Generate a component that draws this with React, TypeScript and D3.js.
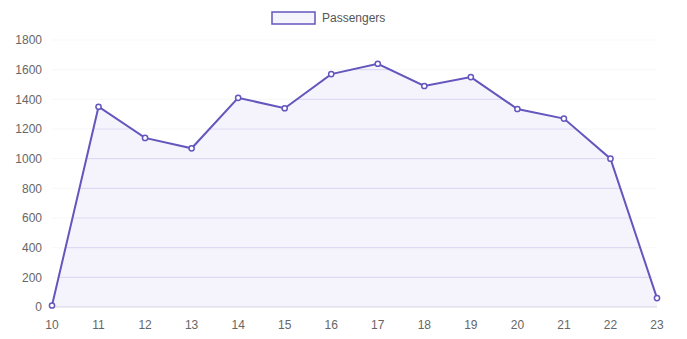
import React from "react";
import * as d3 from "d3";

const hours = [10, 11, 12, 13, 14, 15, 16, 17, 18, 19, 20, 21, 22, 23];
const passengers = [10, 1350, 1140, 1070, 1410, 1340, 1570, 1640, 1490, 1550, 1335, 1270, 1000, 60];
const yTicks = [0, 200, 400, 600, 800, 1000, 1200, 1400, 1600, 1800];
const seriesLabel = "Passengers";

const W = 687;
const H = 339;
const left = 52;
const right = 657;
const top = 40;
const bottom = 307;

export default function App() {
  const x = d3.scaleLinear().domain([hours[0], hours[hours.length - 1]]).range([left, right]);
  const y = d3.scaleLinear().domain([0, 1800]).range([bottom, top]);
  const pts = hours.map((h, i) => [h, passengers[i]] as [number, number]);
  const line = d3.line<[number, number]>().x((d) => x(d[0])).y((d) => y(d[1]));
  const area = d3
    .area<[number, number]>()
    .x((d) => x(d[0]))
    .y0(y(0))
    .y1((d) => y(d[1]));
  const stroke = "#6356bd";
  const font = "'Liberation Sans', Arial, sans-serif";
  return (
    <svg
      width={W}
      height={H}
      style={{ position: "absolute", left: 0, top: 0, background: "#fff" }}
      fontFamily={font}
    >
      <defs>
        <clipPath id="areaClip">
          <path d={area(pts) || ""} />
        </clipPath>
      </defs>
      {yTicks.map((t) => (
        <line key={"g" + t} x1={left} x2={right} y1={y(t)} y2={y(t)} stroke="#f7f7fa" strokeWidth={1} />
      ))}
      <path d={area(pts) || ""} fill="#f5f4fc" />
      <g clipPath="url(#areaClip)">
        {yTicks.map((t) => (
          <line key={"gi" + t} x1={left} x2={right} y1={y(t)} y2={y(t)} stroke="#dedaf4" strokeWidth={1.2} />
        ))}
      </g>
      <line x1={left} x2={right} y1={y(0)} y2={y(0)} stroke="#dddde4" strokeWidth={1} />
      {yTicks.map((t) => (
        <text key={"yl" + t} x={42} y={y(t)} dy="0.35em" textAnchor="end" fontSize={12} fill="#666">
          {t}
        </text>
      ))}
      {hours.map((h) => (
        <text key={"xl" + h} x={x(h)} y={325} dy="0.35em" textAnchor="middle" fontSize={12} fill="#666">
          {h}
        </text>
      ))}
      <path d={line(pts) || ""} fill="none" stroke={stroke} strokeWidth={2} />
      {pts.map((p, i) => (
        <circle key={"p" + i} cx={x(p[0])} cy={y(p[1])} r={2.6} fill="#fff" stroke={stroke} strokeWidth={1.5} />
      ))}
      <rect x={272} y={12} width={43} height={12} fill="#f5f4fc" stroke={stroke} strokeWidth={1.5} />
      <text x={322} y={18} dy="0.35em" fontSize={12} fill="#555">
        {seriesLabel}
      </text>
    </svg>
  );
}
